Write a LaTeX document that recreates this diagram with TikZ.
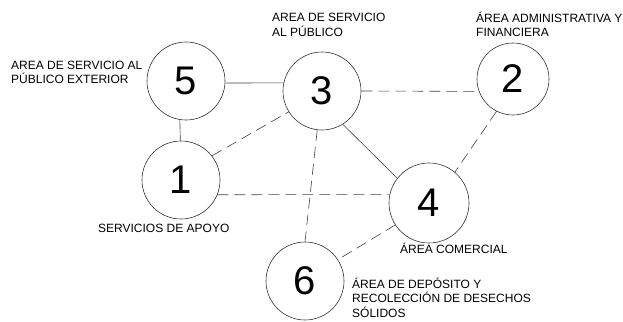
\documentclass[tikz,border=0pt]{standalone}
\usepackage{fontspec}
\setmainfont{Liberation Sans}
\newcommand{\lines}[1]{\begin{tabular}[t]{@{}l@{}}#1\end{tabular}}
\begin{document}
\begin{tikzpicture}[x=1pt,y=-1pt,
  area/.style={circle,draw=black!80,line width=0.6pt,inner sep=0pt,font=\fontsize{40}{40}\selectfont},
  lbl/.style={anchor=base west,inner sep=0pt,font=\fontsize{12}{13.7}\selectfont},
  solidlink/.style={draw=black!75,line width=0.6pt},
  dashlink/.style={draw=black!75,line width=0.6pt,dash pattern=on 11pt off 6pt}]
\useasboundingbox (0,0) rectangle (623,321);
\node[area,minimum size=78pt] (n5) at (186,81) {5};
\node[area,minimum size=78pt] (n3) at (322,91) {3};
\node[area,minimum size=72pt] (n2) at (513,79) {2};
\node[area,minimum size=78pt] (n1) at (181,180) {1};
\node[area,minimum size=80pt] (n4) at (429,203) {4};
\node[area,minimum size=78pt] (n6) at (305,281) {6};
\node[lbl] (l5) at (11,69) {\lines{AREA DE SERVICIO AL\\PÚBLICO EXTERIOR}};
\node[lbl] (l3) at (272,22) {\lines{AREA DE SERVICIO\\AL PÚBLICO}};
\node[lbl] (l2) at (476,23) {\lines{ÁREA ADMINISTRATIVA Y\\FINANCIERA}};
\node[lbl] (l1) at (98,232) {SERVICIOS DE APOYO};
\node[lbl] (l4) at (400,253) {ÁREA COMERCIAL};
\node[lbl] (l6) at (352,288) {\lines{ÁREA DE DEPÓSITO Y\\RECOLECCIÓN DE DESECHOS\\SÓLIDOS}};
\draw[solidlink] (n5.-3) -- (n3.168);
\draw[solidlink] (n5.261) -- (n1.91.5);
\draw[dashlink] (n1.38) -- (n3.212);
\draw[dashlink] (n3.0) -- (n2.200);
\draw[solidlink] (n3.-58) -- (n4.142);
\draw[dashlink] (n3.263) -- (n6.90);
\draw[dashlink] (n1.-22.6) -- (n4.168.5);
\draw[dashlink] (n2.243) -- (n4.50);
\draw[dashlink] (n4.213) -- (n6.33);
\end{tikzpicture}
\end{document}
